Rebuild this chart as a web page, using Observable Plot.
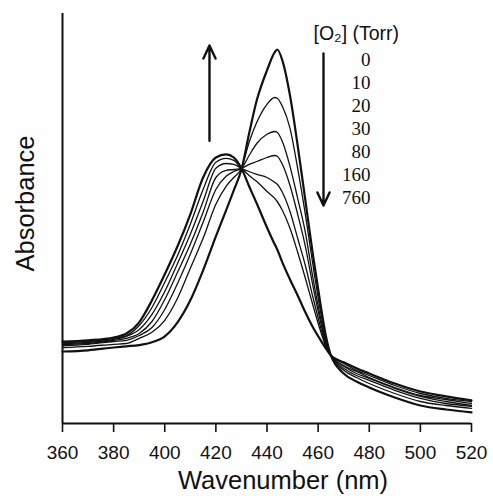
<!DOCTYPE html>
<html>
<head>
<meta charset="utf-8">
<script src="https://cdn.jsdelivr.net/npm/d3@7"></script>
<script src="https://cdn.jsdelivr.net/npm/@observablehq/plot@0.6"></script>
<style>
  html, body { margin: 0; padding: 0; background: #fff; }
</style>
</head>
<body>
<div id="chart"></div>
<script>
const wavelengths = [360,370,380,385,390,395,400,405,410,415,420,424,427,430,433,436,440,443,444,446,449,452,455,458,461,463,465,470,475,480,490,500,510,520];
const pressures = [0, 10, 20, 30, 80, 160, 760];
const abs0   = [.180,.183,.190,.193,.196,.203,.218,.253,.308,.383,.468,.533,.583,.635,.725,.808,.883,.928,.935,.908,.820,.695,.558,.420,.295,.220,.170,.125,.105,.090,.065,.045,.035,.028];
const abs10  = [.190,.193,.198,.200,.213,.228,.258,.313,.388,.463,.548,.593,.615,.638,.703,.753,.798,.815,.813,.793,.738,.638,.523,.395,.278,.213,.170,.133,.115,.100,.075,.055,.045,.038];
const abs20  = [.195,.198,.205,.208,.220,.240,.285,.350,.423,.503,.585,.618,.630,.638,.670,.700,.723,.730,.728,.705,.643,.563,.478,.363,.263,.205,.170,.138,.120,.108,.083,.063,.050,.043];
const abs30  = [.198,.200,.208,.213,.225,.255,.310,.378,.448,.528,.615,.633,.635,.638,.648,.655,.665,.670,.668,.648,.595,.523,.443,.343,.253,.200,.170,.143,.125,.113,.088,.068,.055,.045];
const abs80  = [.200,.203,.210,.218,.235,.273,.330,.400,.473,.555,.638,.650,.648,.638,.630,.623,.615,.603,.598,.578,.530,.463,.395,.315,.240,.195,.170,.145,.130,.115,.090,.070,.060,.050];
const abs160 = [.203,.205,.213,.220,.245,.290,.353,.420,.498,.585,.653,.663,.658,.638,.620,.605,.580,.563,.555,.533,.488,.428,.363,.295,.230,.193,.170,.150,.133,.120,.095,.075,.063,.055];
const abs760 = [.205,.208,.215,.225,.253,.308,.373,.443,.523,.615,.665,.673,.665,.638,.593,.550,.490,.448,.435,.403,.360,.320,.278,.240,.208,.188,.170,.153,.138,.125,.100,.080,.068,.058];
const xTicks = [360,380,400,420,440,460,480,500,520];
const thickSeries = [0, 760];
const arrows = [
  {x1: 417.5, y1: 0.707, x2: 417.5, y2: 0.945},
  {x1: 462.1, y1: 0.925, x2: 462.1, y2: 0.545}
];

const seriesArrays = [abs0, abs10, abs20, abs30, abs80, abs160, abs760];
const data = [];
pressures.forEach((p, k) => {
  wavelengths.forEach((wl, i) => data.push({p, wl, A: seriesArrays[k][i]}));
});

const sans = "'Liberation Sans', Arial, Helvetica, sans-serif";
const serif = "'Liberation Serif', 'Times New Roman', serif";

const chart = Plot.plot({
  width: 493,
  height: 496,
  marginLeft: 62,
  marginRight: 22,
  marginTop: 13,
  marginBottom: 73,
  x: {domain: [360, 520]},
  y: {domain: [0, 1.025], axis: null},
  style: {fontFamily: sans, fontSize: "19px", color: "#111", background: "#fff"},
  marks: [
    Plot.axisX({ticks: xTicks, tickSize: 9, tickPadding: 13, tickFormat: d => String(d), label: null, strokeWidth: 1.6, fontSize: 19}),
    Plot.ruleY([0], {stroke: "#111", strokeWidth: 2}),
    Plot.ruleX([360], {y1: 0, y2: 1.025, stroke: "#111", strokeWidth: 2}),
    Plot.line(data.filter(d => !thickSeries.includes(d.p)), {x: "wl", y: "A", z: "p", curve: "monotone-x", stroke: "#111", strokeWidth: 1.3}),
    Plot.line(data.filter(d => thickSeries.includes(d.p)), {x: "wl", y: "A", z: "p", curve: "monotone-x", stroke: "#111", strokeWidth: 2.2}),
    Plot.arrow(arrows, {x1: "x1", y1: "y1", x2: "x2", y2: "y2", stroke: "#111", strokeWidth: 2.4, headLength: 9, headAngle: 50}),
    Plot.text(["[O₂] (Torr)"], {x: 458.2, y: 0.975, textAnchor: "start", lineAnchor: "middle", fontSize: 19.5, fontFamily: sans, fill: "#111"}),
    Plot.text(pressures, {x: 480.5, y: (d, i) => 0.91 - i * 0.0575, text: d => String(d), textAnchor: "end", lineAnchor: "middle", fontSize: 19, fontFamily: serif, fill: "#111"}),
    Plot.text(["Absorbance"], {x: 360, y: 0.55, dx: -37, rotate: -90, textAnchor: "middle", lineAnchor: "middle", fontSize: 25.5, fontFamily: sans, fill: "#111"}),
    Plot.text(["Wavenumber (nm)"], {frameAnchor: "bottom", dx: 16, dy: 57, textAnchor: "middle", lineAnchor: "middle", fontSize: 25.5, fontFamily: sans, fill: "#111"})
  ]
});
document.getElementById("chart").appendChild(chart);
</script>
</body>
</html>
